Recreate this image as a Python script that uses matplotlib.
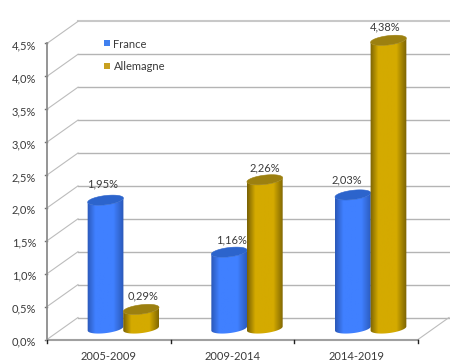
import numpy as np
import matplotlib
matplotlib.use("Agg")
import matplotlib.pyplot as plt
from matplotlib.colors import LinearSegmentedColormap
from matplotlib.patches import Polygon, Rectangle

categories = ["2005-2009", "2009-2014", "2014-2019"]
series_names = ["France", "Allemagne"]
france = [1.95, 1.16, 2.03]
allemagne = [0.29, 2.26, 4.38]
y_ticks = [0.0, 0.5, 1.0, 1.5, 2.0, 2.5, 3.0, 3.5, 4.0, 4.5]

W, H = 450, 362
X0, Y0 = 47.0, 339.5      # pixel position of the front origin
PX_CAT, PX_VAL = 123.67, 65.8   # pixels per category / per 1 %
DX, DY = 31 / PX_CAT, 22 / PX_VAL  # depth of the 3D box
BAR_DX, BAR_DY = 14.5 / PX_CAT, 11 / PX_VAL  # bars stand mid-depth

plt.rcParams["font.family"] = ["Lato", "DejaVu Sans"]
TXT = "#3a3a3a"
FS = 8

fig = plt.figure(figsize=(W / 100, H / 100), dpi=100, facecolor="white")
ax = fig.add_axes([0, 0, 1, 1])
ax.set_xlim(-X0 / PX_CAT, (W - X0) / PX_CAT)
ax.set_ylim((Y0 - H) / PX_VAL, Y0 / PX_VAL)
ax.axis("off")

GRID = "#b4b4b4"
n = len(categories)
for i, v in enumerate(y_ticks):
    last = i == len(y_ticks) - 1
    ax.plot([DX, n + DX], [v + DY, v + DY], color="#c8c8c8" if last else GRID,
            lw=1.5 if last else 1.0, zorder=1)
    ax.plot([0, DX], [v, v + DY], color="#bcbcbc", lw=0.8, zorder=1)
    ax.plot([-2 / PX_CAT, 0], [v, v], color="#707070", lw=1.0, zorder=2)
    ax.text(-11 / PX_CAT, v - 2.5 / PX_VAL, f"{v:.1f}%".replace(".", ","),
            ha="right", va="center", fontsize=FS, color=TXT)

ax.plot([0, 0], [0, y_ticks[-1]], color="#8c8c8c", lw=1.3, zorder=2)
ax.plot([0, n], [0, 0], color="#a0a0a0", lw=1.5, zorder=2)
ax.plot([n, n + DX], [0, DY], color="#bcbcbc", lw=0.8, zorder=1)
for k in range(n + 1):
    ax.plot([k, k], [0, -3.5 / PX_VAL], color="#202020", lw=1.0, zorder=3)
for k, c in enumerate(categories):
    ax.text(k + 0.5, -17 / PX_VAL, c, ha="center", va="center",
            fontsize=FS, color=TXT)


def cmap(edge, mid):
    return LinearSegmentedColormap.from_list(
        "c", [(0, edge), (0.22, mid), (0.72, mid), (1, edge)])


def ellipse(cx, cy, t):
    ang = np.deg2rad(7)
    ex = 18 * np.cos(t)
    ey = 4.6 * np.sin(t)
    px = ex * np.cos(ang) - ey * np.sin(ang)
    py = ex * np.sin(ang) + ey * np.cos(ang)
    return cx + px / PX_CAT, cy + py / PX_VAL


def cylinder(xc, value, edge, mid, top, z):
    base = BAR_DY
    ytop = value + BAR_DY
    tb = np.linspace(np.pi, 2 * np.pi, 40)
    bx, by = ellipse(xc, base, tb)
    tt = np.linspace(2 * np.pi, np.pi, 40)
    ux, uy = ellipse(xc, ytop, tt)
    verts = np.column_stack([np.r_[bx, ux], np.r_[by, uy]])
    patch = Polygon(verts, closed=True, facecolor="none", edgecolor="none",
                    transform=ax.transData)
    ax.add_patch(patch)
    grad = np.linspace(0, 1, 64).reshape(1, -1)
    half = 18.2 / PX_CAT
    im = ax.imshow(grad, cmap=cmap(edge, mid), aspect="auto", zorder=z,
                   extent=(xc - half, xc + half, base - 8 / PX_VAL, ytop + 8 / PX_VAL))
    im.set_clip_path(patch)
    tf = np.linspace(0, 2 * np.pi, 80)
    fx, fy = ellipse(xc, ytop, tf)
    ax.add_patch(Polygon(np.column_stack([fx, fy]), closed=True, facecolor=top,
                         edgecolor=top, lw=0.4, zorder=z + 0.1))


colours = [("#2a58b8", "#4080ff", "#2c64cc"), ("#7a6204", "#d4aa00", "#9c8010")]
series = [france, allemagne]
half_gap = 17.8 / PX_CAT
for k in range(n):
    for s, vals in enumerate(series):
        xc = k + 0.5 + BAR_DX + (s * 2 - 1) * half_gap
        cylinder(xc, vals[k], *colours[s], z=4 + k + s * 0.4)

nudge_x = [[-3, 2], [2, 0], [-6, -3.5]]
nudge_y = [16, 13, 12, 12, 15, 13]
for k in range(n):
    for s, vals in enumerate(series):
        xc = k + 0.5 + BAR_DX + (s * 2 - 1) * half_gap
        ax.annotate(f"{vals[k]:.2f}%".replace(".", ","),
                    (xc, vals[k] + BAR_DY),
                    xytext=(nudge_x[k][s], nudge_y[k * 2 + s]),
                    textcoords="offset pixels",
                    ha="center", va="center", fontsize=FS, color=TXT, zorder=20)

# legend
leg_x = (104 - X0) / PX_CAT
for s, name in enumerate(series_names):
    py = 43 + 23 * s
    yy = (Y0 - py) / PX_VAL
    ax.add_patch(Rectangle((leg_x, yy - 3 / PX_VAL), 6 / PX_CAT, 6 / PX_VAL,
                           facecolor=["#4080ef", "#c8a020"][s], edgecolor="none", zorder=10))
    ax.text(leg_x + 9.5 / PX_CAT, yy - 1 / PX_VAL, name, ha="left", va="center",
            fontsize=FS, color=TXT, zorder=10)

fig.savefig("out.png", dpi=100, facecolor="white")
